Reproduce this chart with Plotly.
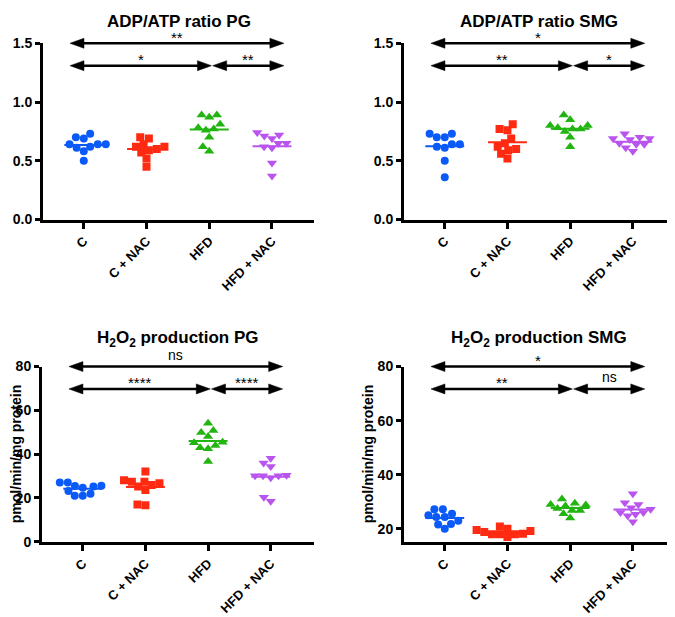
import numpy as np
import plotly.graph_objects as go

groups = ["C", "C + NAC", "HFD", "HFD + NAC"]
colors = ["#0A5AF8", "#FF2A12", "#22B512", "#B955EE"]
symbols = ["circle", "square", "triangle-up", "triangle-down"]
marker_sizes = [8, 8, 9, 9]

# ADP/ATP ratio, PG
adp_pg_c = [0.70, 0.73, 0.69, 0.62, 0.64, 0.64, 0.61, 0.64, 0.58, 0.50]
adp_pg_cnac = [0.70, 0.69, 0.64, 0.59, 0.62, 0.62, 0.60, 0.57, 0.52, 0.45]
adp_pg_hfd = [0.87, 0.89, 0.89, 0.81, 0.76, 0.77, 0.78, 0.70, 0.58, 0.62]
adp_pg_hfdnac = [0.69, 0.71, 0.74, 0.72, 0.62, 0.61, 0.65, 0.65, 0.48, 0.37]
adp_pg_stats = ["**", "*", "**"]

# ADP/ATP ratio, SMG
adp_smg_c = [0.70, 0.73, 0.70, 0.73, 0.62, 0.64, 0.61, 0.64, 0.50, 0.36]
adp_smg_cnac = [0.81, 0.76, 0.77, 0.69, 0.62, 0.65, 0.60, 0.59, 0.52, 0.56]
adp_smg_hfd = [0.89, 0.85, 0.80, 0.80, 0.77, 0.75, 0.78, 0.77, 0.70, 0.62]
adp_smg_hfdnac = [0.70, 0.73, 0.69, 0.69, 0.68, 0.64, 0.64, 0.65, 0.61, 0.58]
adp_smg_stats = ["*", "**", "*"]

# H2O2 production, PG
h2o2_pg_c = [24.7, 27.1, 27.1, 25.2, 25.5, 25.6, 21.0, 23.2, 21.0, 21.9]
h2o2_pg_cnac = [32.1, 27.4, 25.2, 26.7, 28.1, 25.9, 27.4, 23.7, 16.7, 17.0]
h2o2_pg_hfd = [54.1, 50.8, 49.9, 48.1, 44.0, 45.5, 45.2, 42.5, 42.9, 36.6]
h2o2_pg_hfdnac = [36.0, 38.1, 34.4, 30.1, 30.4, 29.2, 30.1, 30.1, 18.5, 20.3]
h2o2_pg_stats = ["ns", "****", "****"]

# H2O2 production, SMG
h2o2_smg_c = [25.0, 23.0, 20.0, 27.2, 24.4, 27.2, 24.4, 25.6, 21.8, 21.6]
h2o2_smg_cnac = [20.9, 18.8, 19.6, 18.0, 18.0, 18.2, 17.0, 18.0, 20.0, 19.2]
h2o2_smg_hfd = [31.0, 29.5, 29.0, 28.8, 28.4, 27.5, 26.8, 26.8, 25.6, 24.0]
h2o2_smg_hfdnac = [33.0, 29.6, 29.0, 26.0, 26.0, 27.8, 25.4, 27.2, 22.6, 24.8]
h2o2_smg_stats = ["*", "**", "ns"]

# comparisons: (group a, group b, row) ; row 0 is the top arrow
comparisons = [(0, 3, 0), (0, 2, 1), (2, 3, 1)]

# the page body has an 8px margin, so the figure is drawn 8px lower/right
PAGE_OFF = 8
FIG_W, FIG_H = 675 - PAGE_OFF, 617 - PAGE_OFF
FONT = "Liberation Sans, Arial, sans-serif"

# panel boxes in screen pixels: (left, right, top, bottom)
panels = [
    dict(title="<b>ADP/ATP ratio PG</b>",
         data=[adp_pg_c, adp_pg_cnac, adp_pg_hfd, adp_pg_hfdnac], stats=adp_pg_stats,
         box=(43, 314, 36, 217), xrange=(-0.65, 3.67), yrange=(0, 1.5),
         yticks=[0, 0.5, 1.0, 1.5], fmt=".1f", ytitle=None, title_y=14),
    dict(title="<b>ADP/ATP ratio SMG</b>",
         data=[adp_smg_c, adp_smg_cnac, adp_smg_hfd, adp_smg_hfdnac], stats=adp_smg_stats,
         box=(404, 673, 36, 217), xrange=(-0.65, 3.64), yrange=(0, 1.5),
         yticks=[0, 0.5, 1.0, 1.5], fmt=".1f", ytitle=None, title_y=14),
    dict(title="<b>H<sub>2</sub>O<sub>2</sub> production PG</b>",
         data=[h2o2_pg_c, h2o2_pg_cnac, h2o2_pg_hfd, h2o2_pg_hfdnac], stats=h2o2_pg_stats,
         box=(42, 314, 368, 548), xrange=(-0.65, 3.69), yrange=(0, 80),
         yticks=[0, 20, 40, 60, 80], fmt="d", ytitle=16, title_y=340),
    dict(title="<b>H<sub>2</sub>O<sub>2</sub> production SMG</b>",
         data=[h2o2_smg_c, h2o2_smg_cnac, h2o2_smg_hfd, h2o2_smg_hfdnac], stats=h2o2_smg_stats,
         box=(404, 673, 368, 548), xrange=(-0.65, 3.64), yrange=(15.2, 80),
         yticks=[20, 40, 60, 80], fmt="d", ytitle=368, title_y=340),
]


def fx(px):
    return (px - PAGE_OFF) / FIG_W


def fy(px):
    return 1 - (px - PAGE_OFF) / FIG_H


def swarm(y_px, diam=8.0):
    """Beeswarm: smallest horizontal pixel offset that avoids overlapping markers."""
    y_px = np.asarray(y_px, float)
    placed, offs = [], np.zeros(len(y_px))
    for idx in np.argsort(-y_px, kind="stable"):
        y = y_px[idx]
        cands = [0.0]
        for px, py in placed:
            dy = abs(y - py)
            if dy < diam:
                dx = np.sqrt(diam ** 2 - dy ** 2)
                cands += [px + dx, px - dx]
        cands.sort(key=lambda c: (round(abs(c), 6), c))
        for c in cands:
            if all(np.hypot(c - px, y - py) >= diam - 1e-6 for px, py in placed):
                break
        offs[idx] = c
        placed.append((c, y))
    return offs


fig = go.Figure()
shapes, annotations = [], []

for k, p in enumerate(panels):
    sfx = "" if k == 0 else str(k + 1)
    left, right, top, bottom = p["box"]
    x0, x1 = p["xrange"]
    y0, y1 = p["yrange"]
    ppx = (right - left) / (x1 - x0)
    ppy = (bottom - top) / (y1 - y0)

    def to_px_x(v):
        return left + (v - x0) * ppx

    def to_px_y(v):
        return bottom - (v - y0) * ppy

    for i, vals in enumerate(p["data"]):
        vals = np.asarray(vals)
        offs = swarm(to_px_y(vals))
        fig.add_trace(go.Scatter(
            x=i + offs / ppx, y=vals, mode="markers",
            marker=dict(symbol=symbols[i], size=marker_sizes[i], color=colors[i], line=dict(width=0)),
            xaxis="x" + sfx, yaxis="y" + sfx, showlegend=False, hoverinfo="skip"))
        m = vals.mean()
        fig.add_trace(go.Scatter(
            x=[i - 0.31, i + 0.31], y=[m, m], mode="lines",
            line=dict(color=colors[i], width=2),
            xaxis="x" + sfx, yaxis="y" + sfx, showlegend=False, hoverinfo="skip"))

    fig.update_layout(**{
        "xaxis" + sfx: dict(
            domain=[fx(left), fx(right)], range=list(p["xrange"]),
            anchor="y" + sfx, showline=True, linecolor="black", linewidth=3,
            ticks="outside", ticklen=6, tickwidth=2.5, tickcolor="black",
            tickvals=list(range(len(groups))), ticktext=["<b>%s</b>" % g for g in groups],
            tickangle=-45, tickfont=dict(family=FONT, size=13, color="black"),
            showgrid=False, zeroline=False),
        "yaxis" + sfx: dict(
            domain=[fy(bottom), fy(top)], range=list(p["yrange"]),
            anchor="x" + sfx, showline=True, linecolor="black", linewidth=3,
            ticks="outside", ticklen=5, tickwidth=2.5, tickcolor="black",
            tickvals=p["yticks"], tickformat=p["fmt"],
            tickfont=dict(family=FONT, size=14, color="black", weight="bold"),
            showgrid=False, zeroline=False),
    })

    annotations.append(dict(
        text=p["title"], x=fx((left + right) / 2), y=fy(p["title_y"]),
        xref="paper", yref="paper", showarrow=False, xanchor="center", yanchor="middle",
        font=dict(family=FONT, size=17, color="black")))
    if p["ytitle"] is not None:
        annotations.append(dict(
            text="<b>pmol/min/mg protein</b>", x=fx(p["ytitle"]),
            y=fy((top + bottom) / 2), xref="paper", yref="paper",
            showarrow=False, textangle=-90, xanchor="center", yanchor="middle",
            font=dict(family=FONT, size=14, color="black")))

    # comparison arrows (double headed)
    head_len, head_h = 14, 5
    last = len(groups) - 1
    for (a, b, row), label in zip(comparisons, p["stats"]):
        xa = a - 0.22 if a == 0 else a + 0.055
        xb = b + 0.19 if b == last else b + 0.035
        y_px = top + row * 23
        pa, pb = to_px_x(xa), to_px_x(xb)
        yy = fy(y_px)
        shapes.append(dict(type="line", xref="paper", yref="paper",
                           x0=fx(pa + head_len - 1), x1=fx(pb - head_len + 1),
                           y0=yy, y1=yy, line=dict(color="black", width=2.5)))
        for tip, d in ((pa, 1), (pb, -1)):
            shapes.append(dict(
                type="path", xref="paper", yref="paper", xsizemode="pixel", ysizemode="pixel",
                xanchor=fx(tip), yanchor=yy,
                path="M0,0 L%d,%d L%d,%d Z" % (d * head_len, head_h, d * head_len, -head_h),
                fillcolor="black", line=dict(color="black", width=0.5)))
        shift = 12 if label == "ns" else 6
        annotations.append(dict(
            text=label, x=fx((pa + pb) / 2), y=yy, xref="paper", yref="paper",
            showarrow=False, xanchor="center", yanchor="middle", yshift=shift,
            font=dict(family=FONT, size=15 if label != "ns" else 14, color="black")))

fig.update_layout(
    width=FIG_W, height=FIG_H,
    margin=dict(l=0, r=0, t=0, b=0),
    paper_bgcolor="white", plot_bgcolor="white",
    shapes=shapes, annotations=annotations,
    showlegend=False,
)

fig.write_html("out.html")
